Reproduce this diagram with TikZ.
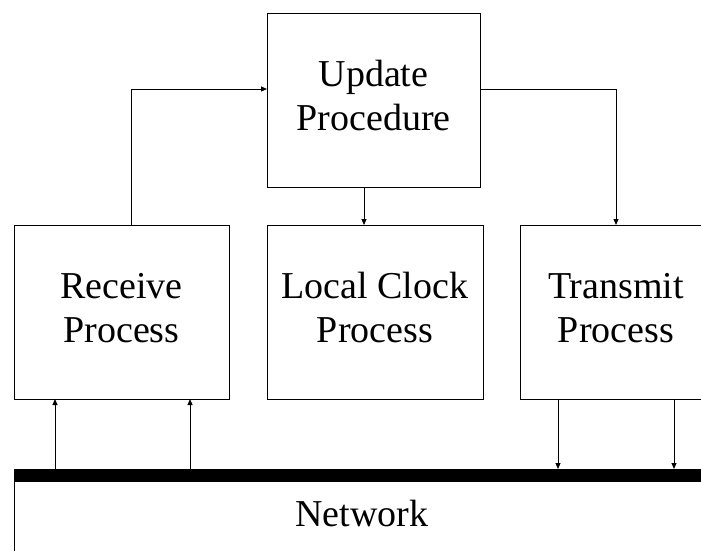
\documentclass[tikz,border=0pt]{standalone}
\usepackage{fontspec}
\setmainfont{Liberation Serif}
\usetikzlibrary{arrows.meta}

\tikzset{
  procbox/.style={draw, line width=1pt, inner sep=0pt, outer sep=0pt,
    minimum height=174pt, align=center,
    font=\fontsize{38}{44}\selectfont},
  arr/.style={line width=1pt, -{Triangle[length=6pt,width=5pt]}},
  wire/.style={line width=1pt}
}

\begin{document}
\begin{tikzpicture}[x=1pt, y=-1pt]
            \useasboundingbox (0,0) rectangle (701,550);
            \clip (0,0) rectangle (701,550);
            \node (update) [procbox, minimum width=213pt] at (373.5,100) {\strut Update\\Procedure\strut};
            \node (receive) [procbox, minimum width=215pt] at (121.5,312) {\strut Receive\\Process\strut};
            \node (clock) [procbox, minimum width=216pt] at (375,312) {\strut Local Clock\\Process\strut};
            \node (transmit) [procbox, minimum width=192pt] at (616,312) {\strut Transmit\\Process\strut};
            \node (network) [draw, line width=1pt, inner sep=0pt, minimum width=696pt,
              minimum height=90pt, anchor=north west] at (14,475) {};
            \node (nettext) at (362,513) {\fontsize{38}{44}\selectfont Network};
            \coordinate (up) at (131,89);
            \coordinate (down) at (364,0);
            \coordinate (bus) at (14,469);
            \draw[line width=13pt] (14,475.5) -- (720,475.5);
            \draw[arr] (receive.north -| up) |- (update.west |- up);
            \draw[arr] (update.east |- up) -| (transmit.north);
            \draw[arr] (update.south -| down) -- (clock.north -| down);
            \foreach \xx in {55,190}
              \draw[arr] (bus -| {\xx,0}) -- (receive.south -| {\xx,0});
            \foreach \xx in {558,674}
              \draw[arr] (transmit.south -| {\xx,0}) -- (bus -| {\xx,0});
        \end{tikzpicture}
\end{document}
